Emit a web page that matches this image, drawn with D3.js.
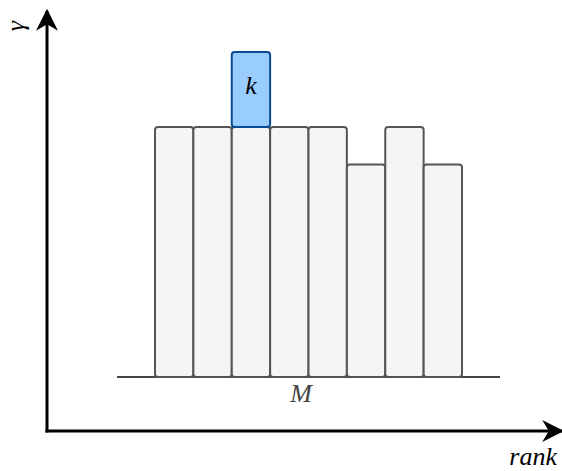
<!DOCTYPE html>
<html><head><meta charset="utf-8">
<script src="https://cdn.jsdelivr.net/npm/d3@7"></script>
<style>body{margin:0;background:#fff}svg{display:block}</style>
</head><body>
<svg id="c" width="562" height="471"></svg>
<script>
const categories = ["1","2","3","4","5","6","7","8"];
const values = [10, 10, 10, 10, 10, 8.5, 10, 8.5];
const highlightIndex = 2;
const highlightValue = 3;
const highlightLabel = "k";
const xLabel = "rank";
const yLabel = "γ";
const baseLabel = "M";

const svg = d3.select("#c");
const x = d3.scaleBand().domain(categories).range([155, 462]).padding(0);
const y = d3.scaleLinear().domain([0, 10]).range([377, 127]);

const defs = svg.append("defs");
defs.append("marker").attr("id","ah").attr("viewBox","0 0 10 10").attr("refX",9).attr("refY",5)
  .attr("markerWidth",22).attr("markerHeight",22).attr("markerUnits","userSpaceOnUse").attr("orient","auto")
  .append("path").attr("d","M0,0 L10,5 L0,10 L3,5 Z").attr("fill","#000");

// axes
svg.append("line").attr("x1",47).attr("y1",432.5).attr("x2",47).attr("y2",11)
  .attr("stroke","#000").attr("stroke-width",3).attr("marker-end","url(#ah)");
svg.append("line").attr("x1",45.5).attr("y1",431).attr("x2",562).attr("y2",431)
  .attr("stroke","#000").attr("stroke-width",3).attr("marker-end","url(#ah)");

// baseline
svg.append("line").attr("x1",117).attr("x2",500).attr("y1",y(0)).attr("y2",y(0))
  .attr("stroke","#444").attr("stroke-width",2);

// bars
svg.selectAll("rect.bar").data(values).join("rect").attr("class","bar")
  .attr("x",(d,i)=>x(categories[i])).attr("width",x.bandwidth())
  .attr("y",d=>y(d)).attr("height",d=>y(0)-y(d))
  .attr("rx",3).attr("fill","#f5f5f5").attr("stroke","#555").attr("stroke-width",2);

// highlight
const hb = values[highlightIndex];
svg.append("rect").attr("x",x(categories[highlightIndex])).attr("width",x.bandwidth())
  .attr("y",y(hb+highlightValue)).attr("height",y(hb)-y(hb+highlightValue))
  .attr("rx",3).attr("fill","#99ccff").attr("stroke","#0a4a94").attr("stroke-width",2);
svg.append("text").attr("x",x(categories[highlightIndex])+x.bandwidth()/2)
  .attr("y",94).attr("text-anchor","middle")
  .attr("font-family","Liberation Serif, serif").attr("font-style","italic").attr("font-size",26)
  .text(highlightLabel);

svg.append("text").attr("x",301).attr("y",402).attr("text-anchor","middle")
  .attr("font-family","Liberation Serif, serif").attr("font-style","italic").attr("font-size",26)
  .attr("fill","#444").text(baseLabel);

svg.append("text").attr("x",557).attr("y",465).attr("text-anchor","end")
  .attr("font-family","Liberation Serif, serif").attr("font-style","italic").attr("font-size",26)
  .text(xLabel);

svg.append("text").attr("transform","translate(24,26) rotate(-90)").attr("text-anchor","middle")
  .attr("font-family","Liberation Serif, serif").attr("font-style","italic").attr("font-size",26)
  .text(yLabel);
</script>
</body></html>
